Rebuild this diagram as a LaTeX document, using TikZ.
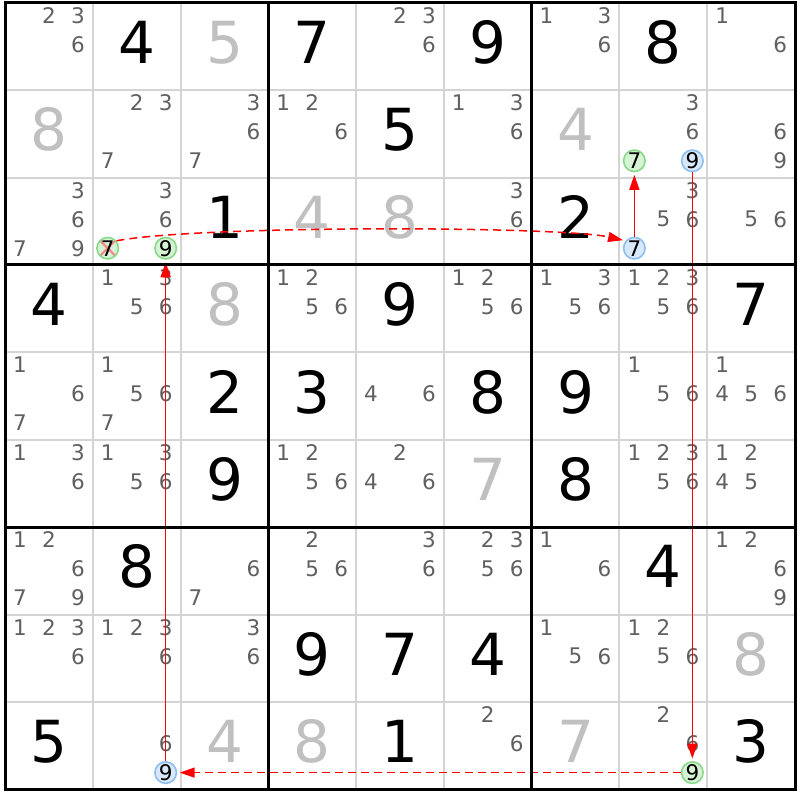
\documentclass[tikz,border=0pt]{standalone}
\usepackage{fontspec}
\setmainfont{DejaVu Sans}
\usetikzlibrary{arrows.meta}
\definecolor{candgray}{RGB}{96,96,96}
\definecolor{solvgray}{RGB}{192,192,192}
\definecolor{thingray}{RGB}{212,212,212}
\definecolor{gfill}{RGB}{214,243,214}
\definecolor{gline}{RGB}{136,218,136}
\definecolor{bfill}{RGB}{216,232,250}
\definecolor{bline}{RGB}{140,190,240}
\definecolor{chainred}{RGB}{255,0,0}
\definecolor{xpink}{RGB}{242,140,140}
\newcommand\sgiven[3]{\node[bigd] (g#1#2) at ({5+(#2-0.5)*87.78},{2.7+(#1-0.5)*87.4-4}) {#3};}
\newcommand\ssolved[3]{\node[bigd,text=solvgray] (g#1#2) at ({5+(#2-0.5)*87.78},{2.7+(#1-0.5)*87.4-4}) {#3};}
\newcommand\scands[3]{\foreach \n in {#3}{\node[cand] (c#1#2\n) at ({5+(#2-0.5)*87.78+(mod(\n-1,3)-1)*29},{2.7+(#1-0.5)*87.4+(floor((\n-1)/3)-1)*29-2}) {\n};}}
\newcommand\scirc[4]{\node[#4] (cc#1#2#3) at ({5+(#2-0.5)*87.78+(mod(#3-1,3)-1)*29},{2.7+(#1-0.5)*87.4+(floor((#3-1)/3)-1)*29-2}) {#3};}
\tikzset{
  bigd/.style={font=\fontsize{58}{58}\selectfont, inner sep=0pt, text=black},
  cand/.style={font=\fontsize{21.5}{21.5}\selectfont, inner sep=0pt, text=candgray},
  gcirc/.style={circle, draw=gline, fill=gfill, line width=1.6pt, minimum size=21.5pt, inner sep=0pt, font=\fontsize{21.5}{21.5}\selectfont, text=black},
  bcirc/.style={gcirc, draw=bline, fill=bfill},
  xcirc/.style={gcirc, path picture={\draw[xpink, line width=2.2pt] (path picture bounding box.north west) -- (path picture bounding box.south east) (path picture bounding box.north east) -- (path picture bounding box.south west);}},
  thinline/.style={draw=thingray, line width=2pt},
  thickline/.style={draw=black, line width=3pt},
  arr/.style={draw=chainred, line width=1.5pt, -{Triangle[length=15pt,width=10pt]}, shorten >=2.5pt},
  darr/.style={arr, dash pattern=on 8pt off 5pt}
}
\begin{document}
\begin{tikzpicture}[x=1pt,y=-1pt]
\useasboundingbox[fill=white] (0,0) rectangle (800,800);
% thin grid
\foreach \k in {1,2,4,5,7,8} {
  \draw[thinline] ({5+\k*87.78},2.7) -- ({5+\k*87.78},789.3);
  \draw[thinline] (5,{2.7+\k*87.4}) -- (795,{2.7+\k*87.4});
}
% row 1
\scands{1}{1}{2,3,6}
\sgiven{1}{2}{4}
\ssolved{1}{3}{5}
\sgiven{1}{4}{7}
\scands{1}{5}{2,3,6}
\sgiven{1}{6}{9}
\scands{1}{7}{1,3,6}
\sgiven{1}{8}{8}
\scands{1}{9}{1,6}
% row 2
\ssolved{2}{1}{8}
\scands{2}{2}{2,3,7}
\scands{2}{3}{3,6,7}
\scands{2}{4}{1,2,6}
\sgiven{2}{5}{5}
\scands{2}{6}{1,3,6}
\ssolved{2}{7}{4}
\scands{2}{8}{3,6}
\scirc{2}{8}{7}{gcirc}
\scirc{2}{8}{9}{bcirc}
\scands{2}{9}{6,9}
% row 3
\scands{3}{1}{3,6,7,9}
\scands{3}{2}{3,6}
\scirc{3}{2}{7}{xcirc}
\scirc{3}{2}{9}{gcirc}
\sgiven{3}{3}{1}
\ssolved{3}{4}{4}
\ssolved{3}{5}{8}
\scands{3}{6}{3,6}
\sgiven{3}{7}{2}
\scands{3}{8}{3,5,6}
\scirc{3}{8}{7}{bcirc}
\scands{3}{9}{5,6}
% row 4
\sgiven{4}{1}{4}
\scands{4}{2}{1,3,5,6}
\ssolved{4}{3}{8}
\scands{4}{4}{1,2,5,6}
\sgiven{4}{5}{9}
\scands{4}{6}{1,2,5,6}
\scands{4}{7}{1,3,5,6}
\scands{4}{8}{1,2,3,5,6}
\sgiven{4}{9}{7}
% row 5
\scands{5}{1}{1,6,7}
\scands{5}{2}{1,5,6,7}
\sgiven{5}{3}{2}
\sgiven{5}{4}{3}
\scands{5}{5}{4,6}
\sgiven{5}{6}{8}
\sgiven{5}{7}{9}
\scands{5}{8}{1,5,6}
\scands{5}{9}{1,4,5,6}
% row 6
\scands{6}{1}{1,3,6}
\scands{6}{2}{1,3,5,6}
\sgiven{6}{3}{9}
\scands{6}{4}{1,2,5,6}
\scands{6}{5}{2,4,6}
\ssolved{6}{6}{7}
\sgiven{6}{7}{8}
\scands{6}{8}{1,2,3,5,6}
\scands{6}{9}{1,2,4,5}
% row 7
\scands{7}{1}{1,2,6,7,9}
\sgiven{7}{2}{8}
\scands{7}{3}{6,7}
\scands{7}{4}{2,5,6}
\scands{7}{5}{3,6}
\scands{7}{6}{2,3,5,6}
\scands{7}{7}{1,6}
\sgiven{7}{8}{4}
\scands{7}{9}{1,2,6,9}
% row 8
\scands{8}{1}{1,2,3,6}
\scands{8}{2}{1,2,3,6}
\scands{8}{3}{3,6}
\sgiven{8}{4}{9}
\sgiven{8}{5}{7}
\sgiven{8}{6}{4}
\scands{8}{7}{1,5,6}
\scands{8}{8}{1,2,5,6}
\ssolved{8}{9}{8}
% row 9
\sgiven{9}{1}{5}
\scands{9}{2}{6}
\scirc{9}{2}{9}{bcirc}
\ssolved{9}{3}{4}
\ssolved{9}{4}{8}
\sgiven{9}{5}{1}
\scands{9}{6}{2,6}
\ssolved{9}{7}{7}
\scands{9}{8}{2,6}
\scirc{9}{8}{9}{gcirc}
\sgiven{9}{9}{3}
% chain
\draw[darr] (cc327.40) .. controls (200,225) and (560,226) .. (cc387.140);
\draw[arr] (cc387) -- (cc287);
\draw[arr] (cc289) -- (cc989);
\draw[darr] (cc989) -- (cc929);
\draw[arr] (cc929) -- (cc329);
% thick lines
\foreach \k in {0,3,6,9} {
  \draw[thickline] ({5+\k*87.78},2.7) -- ({5+\k*87.78},789.3);
  \draw[thickline] (5,{2.7+\k*87.4}) -- (795,{2.7+\k*87.4});
}
\draw[thickline] (5,2.7) rectangle (795,789.3);
\end{tikzpicture}
\end{document}
